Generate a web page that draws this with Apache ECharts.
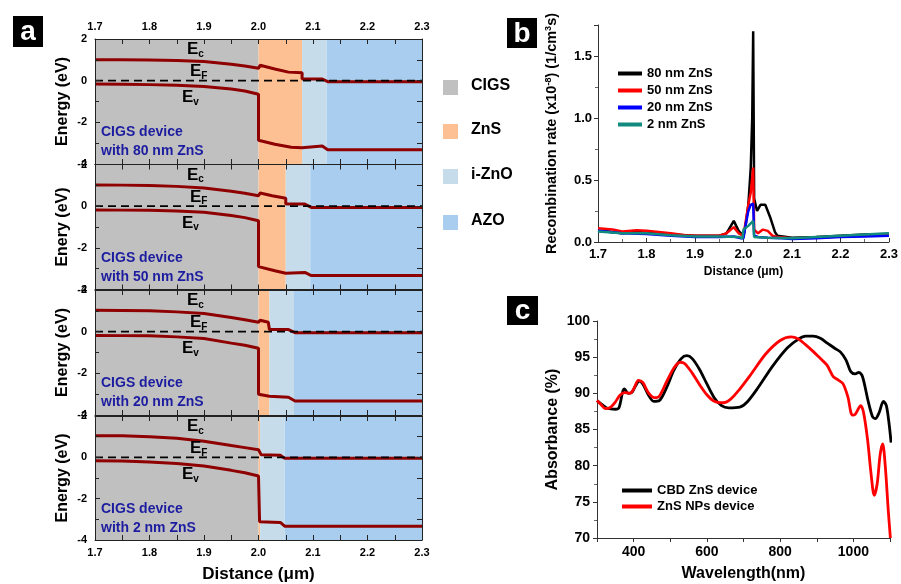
<!DOCTYPE html>
<html><head><meta charset="utf-8">
<script src="https://cdn.jsdelivr.net/npm/echarts@6/dist/echarts.min.js"></script>
<style>html,body{margin:0;padding:0;background:#fff}#c{width:901px;height:584px}</style>
</head><body><div id="c"></div>
<script>
// ---------- Panel a data ----------
const deviceLabels = ['80 nm ZnS', '50 nm ZnS', '20 nm ZnS', '2 nm ZnS'];
const energyAxisNames = ['Energy (eV)', 'Enery (eV)', 'Energy (eV)', 'Energy (eV)'];
const layerNames = ['CIGS', 'ZnS', 'i-ZnO', 'AZO'];
const bandLabelSubs = ['c', 'F', 'v'];
// layer boundaries (µm): CIGS start, ZnS start, i-ZnO start, AZO start, end
const bounds80 = [1.7, 2.0, 2.08, 2.125, 2.3];
const bounds50 = [1.7, 2.0, 2.05, 2.095, 2.3];
const bounds20 = [1.7, 2.0, 2.02, 2.065, 2.3];
const bounds2  = [1.7, 2.0, 2.003, 2.048, 2.3];
// conduction band Ec
const ec80 = [[1.7,1.0],[1.75,1.0],[1.8,0.99],[1.85,0.97],[1.9,0.92],[1.95,0.79],[1.975,0.7],[2.0,0.6],[2.003,0.74],[2.03,0.56],[2.055,0.41],[2.08,0.38],[2.08,0.08],[2.117,0.08],[2.127,-0.05],[2.3,-0.05]];
const ec50 = [[1.7,1.02],[1.75,1.01],[1.8,0.99],[1.85,0.95],[1.9,0.87],[1.95,0.72],[1.975,0.62],[2.0,0.5],[2.003,0.63],[2.025,0.5],[2.05,0.38],[2.05,0.1],[2.085,0.1],[2.097,-0.06],[2.3,-0.06]];
const ec20 = [[1.7,1.03],[1.75,1.02],[1.8,1.0],[1.85,0.95],[1.9,0.87],[1.95,0.68],[1.975,0.57],[2.0,0.45],[2.003,0.55],[2.018,0.45],[2.02,0.1],[2.055,0.1],[2.067,-0.05],[2.3,-0.05]];
const ec2  = [[1.7,1.05],[1.75,1.04],[1.8,1.0],[1.85,0.92],[1.9,0.78],[1.95,0.57],[1.975,0.47],[2.0,0.37],[2.002,0.45],[2.005,0.12],[2.04,0.1],[2.048,-0.05],[2.3,-0.05]];
// valence band Ev
const ev80 = [[1.7,-0.16],[1.75,-0.17],[1.8,-0.19],[1.85,-0.22],[1.9,-0.28],[1.95,-0.4],[1.975,-0.5],[2.0,-0.65],[2.0,-2.86],[2.03,-3.05],[2.06,-3.2],[2.08,-3.22],[2.08,-3.14],[2.117,-3.14],[2.127,-3.32],[2.3,-3.32]];
const ev50 = [[1.7,-0.18],[1.75,-0.19],[1.8,-0.2],[1.85,-0.23],[1.9,-0.29],[1.95,-0.45],[1.975,-0.55],[2.0,-0.7],[2.0,-2.9],[2.03,-3.1],[2.05,-3.22],[2.05,-3.18],[2.085,-3.18],[2.097,-3.33],[2.3,-3.33]];
const ev20 = [[1.7,-0.18],[1.75,-0.19],[1.8,-0.2],[1.85,-0.25],[1.9,-0.33],[1.95,-0.55],[1.975,-0.65],[2.0,-0.8],[2.0,-3.0],[2.02,-3.1],[2.055,-3.15],[2.067,-3.33],[2.3,-3.33]];
const ev2  = [[1.7,-0.17],[1.75,-0.18],[1.8,-0.22],[1.85,-0.3],[1.9,-0.42],[1.95,-0.63],[1.975,-0.75],[2.0,-0.9],[2.002,-3.12],[2.04,-3.15],[2.048,-3.33],[2.3,-3.33]];
const fermiLevel = [[1.7,0],[2.3,0]];
const distTicks = [1.7, 2.3];
const energyRange = [-4, 2];

// ---------- Panel b data ----------
const recNames = ['80 nm ZnS', '50 nm ZnS', '20 nm ZnS', '2 nm ZnS'];
const rec80 = [[1.7,0.09],[1.72,0.085],[1.75,0.07],[1.78,0.08],[1.8,0.075],[1.85,0.06],[1.9,0.05],[1.95,0.05],[1.965,0.07],[1.98,0.17],[1.99,0.09],[2.0,0.05],[2.005,0.15],[2.01,0.3],[2.015,0.6],[2.018,1.0],[2.02,1.7],[2.022,0.35],[2.028,0.25],[2.035,0.3],[2.045,0.3],[2.055,0.2],[2.065,0.08],[2.07,0.05],[2.1,0.035],[2.15,0.04],[2.2,0.05],[2.25,0.06],[2.3,0.065]];
const rec50 = [[1.7,0.11],[1.73,0.1],[1.75,0.085],[1.78,0.095],[1.8,0.09],[1.85,0.07],[1.88,0.055],[1.9,0.05],[1.95,0.05],[1.965,0.07],[1.98,0.12],[1.99,0.07],[2.0,0.05],[2.01,0.3],[2.015,0.4],[2.02,0.6],[2.022,0.1],[2.03,0.07],[2.04,0.1],[2.05,0.09],[2.06,0.05],[2.07,0.04],[2.1,0.03],[2.15,0.035],[2.2,0.045],[2.25,0.055],[2.3,0.06]];
const rec20 = [[1.7,0.09],[1.75,0.07],[1.8,0.065],[1.85,0.05],[1.9,0.04],[1.95,0.04],[1.98,0.045],[1.995,0.03],[2.0,0.03],[2.005,0.15],[2.01,0.25],[2.015,0.3],[2.02,0.31],[2.022,0.05],[2.03,0.04],[2.05,0.035],[2.08,0.03],[2.1,0.025],[2.15,0.03],[2.2,0.04],[2.25,0.045],[2.3,0.05]];
const rec2  = [[1.7,0.085],[1.75,0.07],[1.8,0.07],[1.85,0.055],[1.9,0.045],[1.95,0.045],[1.99,0.04],[1.998,0.03],[2.0,0.1],[2.01,0.13],[2.02,0.17],[2.022,0.04],[2.05,0.035],[2.1,0.03],[2.15,0.04],[2.2,0.05],[2.25,0.06],[2.3,0.07]];

// ---------- Panel c data ----------
const absNames = ['CBD ZnS device', 'ZnS NPs device'];
const absCBD = [[300,89.0],[315,88.4],[330,87.9],[350,87.8],[360,88.0],[370,90.2],[375,90.6],[385,90.0],[395,90.1],[405,91.0],[415,91.7],[425,91.3],[440,89.8],[455,88.9],[470,89.0],[490,90.8],[510,93.2],[530,94.8],[545,95.2],[560,94.8],[580,93.3],[600,91.3],[620,89.4],[640,88.3],[660,88.0],[690,88.1],[710,88.8],[740,90.8],[780,93.8],[820,96.3],[850,97.5],[870,97.9],[890,97.9],[910,97.6],[930,96.9],[950,96.2],[965,95.7],[980,94.6],[993,93.0],[1005,92.7],[1015,92.9],[1025,92.3],[1040,89.0],[1052,86.8],[1060,86.5],[1070,87.3],[1082,88.9],[1090,88.3],[1097,86.0],[1103,83.2]];
const absNP = [[300,89.0],[312,88.4],[322,87.9],[335,88.0],[350,88.8],[362,89.7],[375,90.1],[390,90.0],[400,90.6],[413,91.8],[425,91.5],[440,90.1],[457,89.4],[470,89.6],[490,91.6],[510,93.5],[527,94.3],[540,94.1],[560,92.8],[580,91.2],[600,89.8],[620,88.9],[645,88.7],[665,89.2],[690,90.6],[720,92.6],[760,95.4],[800,97.3],[830,97.8],[850,97.5],[870,96.7],[890,95.8],[910,94.8],[928,93.9],[945,92.3],[960,91.8],[972,91.3],[985,89.5],[997,87.0],[1005,87.1],[1020,88.3],[1028,87.3],[1039,83.5],[1048,79.0],[1057,75.9],[1065,77.5],[1073,81.5],[1080,83.0],[1087,80.0],[1095,74.0],[1101,70.0]];

// ---------- build ----------
const FONT = '"Liberation Sans", Arial, sans-serif';
const layerColors = ['#c0c0c0', '#fcc093', '#c6dcea', '#a9cdee'];
const bandColor = '#8f0000';
const panelsBounds = [bounds80, bounds50, bounds20, bounds2];
const panelsEc = [ec80, ec50, ec20, ec2];
const panelsEv = [ev80, ev50, ev20, ev2];
const gridTops = [39, 164.5, 290, 416];
const gridH = 125;

const grids = [], xAxes = [], yAxes = [], series = [], graphics = [];
const axisTxt = {fontFamily: FONT, fontWeight: 'bold', fontSize: 11, color: '#000'};
const bandRich = {e: {fontFamily: FONT, fontWeight: 'bold', fontSize: 17, fill: '#000'},
                  s: {fontFamily: FONT, fontWeight: 'bold', fontSize: 10, fill: '#000', padding: [9, 0, 0, 0]}};

for (let p = 0; p < 4; p++) {
  grids.push({left: 95, width: 327, top: gridTops[p], height: gridH});
  const xi = xAxes.length, yi = yAxes.length;
  const last = p === 3, first = p === 0;
  xAxes.push({gridIndex: p, type: 'value', min: distTicks[0], max: distTicks[1], interval: 0.1, position: 'bottom', z: 6,
    axisLine: {show: true, onZero: false, lineStyle: {color: '#222', width: 1}},
    axisTick: {show: true, inside: true, length: 5, lineStyle: {color: '#222'}},
    minorTick: {show: true, splitNumber: 2, length: 5, lineStyle: {color: '#222'}},
    splitLine: {show: false},
    axisLabel: {show: last, margin: 7, ...axisTxt, formatter: v => v.toFixed(1)},
    name: last ? 'Distance (\u03bcm)' : '', nameLocation: 'middle', nameGap: 26,
    nameTextStyle: {fontFamily: FONT, fontWeight: 'bold', fontSize: 17, color: '#000'}});
  xAxes.push({gridIndex: p, type: 'value', min: distTicks[0], max: distTicks[1], interval: 0.1, position: 'top', z: 6,
    axisLine: {show: true, onZero: false, lineStyle: {color: '#222', width: 1}},
    axisTick: {show: true, inside: true, length: 5, lineStyle: {color: '#222'}},
    minorTick: {show: true, splitNumber: 2, length: 5, lineStyle: {color: '#222'}},
    splitLine: {show: false},
    axisLabel: {show: first, margin: 7, ...axisTxt, formatter: v => v.toFixed(1)}});
  yAxes.push({gridIndex: p, type: 'value', min: energyRange[0], max: energyRange[1], interval: 2, position: 'left', z: 6,
    axisLine: {show: true, onZero: false, lineStyle: {color: '#222', width: 1}},
    axisTick: {show: true, inside: true, length: 5, lineStyle: {color: '#222'}},
    minorTick: {show: true, splitNumber: 2, length: 4, lineStyle: {color: '#222'}},
    splitLine: {show: false},
    axisLabel: {show: true, margin: 8, ...axisTxt},
    name: energyAxisNames[p], nameLocation: 'middle', nameGap: 24, nameRotate: 90,
    nameTextStyle: {fontFamily: FONT, fontWeight: 'bold', fontSize: 16, color: '#000'}});
  yAxes.push({gridIndex: p, type: 'value', min: energyRange[0], max: energyRange[1], interval: 1, position: 'right', z: 6,
    axisLine: {show: true, onZero: false, lineStyle: {color: '#222', width: 1}},
    axisTick: {show: true, inside: true, length: 5, lineStyle: {color: '#222'}},
    splitLine: {show: false}, axisLabel: {show: false}});

  const b = panelsBounds[p];
  series.push({type: 'line', xAxisIndex: xi, yAxisIndex: yi, data: [[b[0], 0], [b[4], 0]], symbol: 'none',
    lineStyle: {opacity: 0}, silent: true, z: 1,
    markArea: {silent: true, data: [0,1,2,3].map(k => [{xAxis: b[k], itemStyle: {color: layerColors[k]}}, {xAxis: b[k+1]}])}});
  series.push({type: 'line', xAxisIndex: xi, yAxisIndex: yi, data: panelsEc[p], symbol: 'none', z: 3,
    lineStyle: {color: bandColor, width: 3}, silent: true});
  series.push({type: 'line', xAxisIndex: xi, yAxisIndex: yi, data: panelsEv[p], symbol: 'none', z: 3,
    lineStyle: {color: bandColor, width: 3}, silent: true});
  series.push({type: 'line', xAxisIndex: xi, yAxisIndex: yi, data: fermiLevel, symbol: 'none', z: 4,
    lineStyle: {color: '#000', width: 1.8, type: [8, 5]}, silent: true});
  // band labels Ec, EF, Ev
  [[187, 2], [190, 24], [182, 50]].forEach(([lx, dy], k) => {
    graphics.push({type: 'text', z: 100, left: lx, top: gridTops[p] + dy,
      style: {text: '{e|E}{s|' + bandLabelSubs[k] + '}', rich: bandRich}});
  });
  graphics.push({type: 'text', left: 101, top: gridTops[p] + 84, z: 100,
    style: {text: 'CIGS device\nwith ' + deviceLabels[p], fontFamily: FONT, fontWeight: 'bold', fontSize: 14, lineHeight: 19, fill: '#1c1ca0'}});
}

// panel a legend
layerNames.forEach((n, k) => {
  const cy = [87, 131, 176, 222][k];
  graphics.push({type: 'rect', z: 100, shape: {x: 443, y: cy - 7, width: 15, height: 15}, style: {fill: layerColors[k]}});
  graphics.push({type: 'text', z: 100, left: 471, top: cy - 9, style: {text: n, fontFamily: FONT, fontWeight: 'bold', fontSize: 16, fill: '#000'}});
});

// panel b
grids.push({left: 598, right: 8, top: 25, bottom: 342});
const bx = xAxes.length, by = yAxes.length, bg = grids.length - 1;
xAxes.push({gridIndex: bg, type: 'value', min: 1.7, max: 2.3, interval: 0.1,
  axisLine: {show: true, onZero: false, lineStyle: {color: '#333'}},
  axisTick: {show: true, inside: true, length: 4, lineStyle: {color: '#333'}},
  minorTick: {show: true, splitNumber: 2, length: 3, lineStyle: {color: '#666'}},
  splitLine: {show: false},
  axisLabel: {margin: 6, ...axisTxt, fontSize: 13, formatter: v => v.toFixed(1)},
  name: 'Distance (\u03bcm)', nameLocation: 'middle', nameGap: 24,
  nameTextStyle: {fontFamily: FONT, fontWeight: 'bold', fontSize: 12, color: '#000'}});
yAxes.push({gridIndex: bg, type: 'value', min: 0, max: 1.75, interval: 0.5,
  axisLine: {show: true, onZero: false, lineStyle: {color: '#333'}},
  axisTick: {show: true, length: 4, lineStyle: {color: '#333'}},
  minorTick: {show: true, splitNumber: 2, length: 3, lineStyle: {color: '#666'}},
  splitLine: {show: false},
  axisLabel: {margin: 6, ...axisTxt, fontSize: 13, showMaxLabel: false, formatter: v => v.toFixed(1)},
  name: 'Recombination rate (x10{sup|-8}) (1/cm{sup|3}s)', nameLocation: 'middle', nameGap: 38, nameRotate: 90,
  nameTextStyle: {fontFamily: FONT, fontWeight: 'bold', fontSize: 14.5, color: '#000',
    rich: {sup: {fontFamily: FONT, fontWeight: 'bold', fontSize: 9, color: '#000', padding: [0, 0, 7, 0]}}}});
const recColors = ['#000000', '#ff0000', '#0000ff', '#138a7e'];
[rec80, rec50, rec20, rec2].forEach((d, k) => {
  series.push({type: 'line', name: recNames[k], xAxisIndex: bx, yAxisIndex: by, data: d, symbol: 'none',
    lineStyle: {color: recColors[k], width: 2.5}, itemStyle: {color: recColors[k]}, z: 2 + k});
});

// panel c
grids.push({left: 597, right: 11, top: 321, bottom: 46});
const cx = xAxes.length, cyI = yAxes.length, cg = grids.length - 1;
xAxes.push({gridIndex: cg, type: 'value', min: 300, max: 1100, interval: 100,
  axisLine: {show: true, onZero: false, lineStyle: {color: '#333'}},
  axisTick: {show: true, length: 4, lineStyle: {color: '#333'}},
  splitLine: {show: false},
  axisLabel: {margin: 7, ...axisTxt, fontSize: 14, formatter: v => (v % 200 === 0 ? String(v) : '')},
  name: 'Wavelength(nm)', nameLocation: 'middle', nameGap: 28,
  nameTextStyle: {fontFamily: FONT, fontWeight: 'bold', fontSize: 16, color: '#000'}});
yAxes.push({gridIndex: cg, type: 'value', min: 70, max: 100, interval: 5,
  axisLine: {show: true, onZero: false, lineStyle: {color: '#333'}},
  axisTick: {show: true, length: 4, lineStyle: {color: '#333'}},
  minorTick: {show: true, splitNumber: 2, length: 3, lineStyle: {color: '#666'}},
  splitLine: {show: false},
  axisLabel: {margin: 7, ...axisTxt, fontSize: 14},
  name: 'Absorbance (%)', nameLocation: 'middle', nameGap: 36, nameRotate: 90,
  nameTextStyle: {fontFamily: FONT, fontWeight: 'bold', fontSize: 16, color: '#000'}});
const absColors = ['#000000', '#ff0000'];
[absCBD, absNP].forEach((d, k) => {
  series.push({type: 'line', name: absNames[k], xAxisIndex: cx, yAxisIndex: cyI, data: d, symbol: 'none', smooth: 0.3,
    lineStyle: {color: absColors[k], width: 2.8}, itemStyle: {color: absColors[k]}, z: 2 + k});
});

// panel letters
[['a', 13, 16, 30, 31], ['b', 507, 18, 30, 30], ['c', 507, 296, 31, 29]].forEach(([t, x, y, w, h]) => {
  graphics.push({type: 'rect', z: 100, shape: {x, y, width: w, height: h}, style: {fill: '#000'}});
  graphics.push({type: 'text', z: 101, x: x + w / 2, y: y + h / 2 + 1, style: {text: t, fontFamily: FONT, fontWeight: 'bold', fontSize: 28, fill: '#fff', align: 'center', verticalAlign: 'middle'}});
});

const chart = echarts.init(document.getElementById('c'), null, {renderer: 'canvas'});
chart.setOption({
  animation: false,
  backgroundColor: '#fff',
  grid: grids, xAxis: xAxes, yAxis: yAxes, series,
  legend: [
    {data: recNames, orient: 'vertical', left: 613, top: 62, itemWidth: 24, itemHeight: 4, itemGap: 4, icon: 'rect',
     textStyle: {fontFamily: FONT, fontWeight: 'bold', fontSize: 13, color: '#000'}},
    {data: absNames, orient: 'vertical', left: 617, top: 479, itemWidth: 30, itemHeight: 4, itemGap: 3, icon: 'rect',
     textStyle: {fontFamily: FONT, fontWeight: 'bold', fontSize: 13, color: '#000'}}
  ],
  graphic: graphics
});
</script></body></html>
